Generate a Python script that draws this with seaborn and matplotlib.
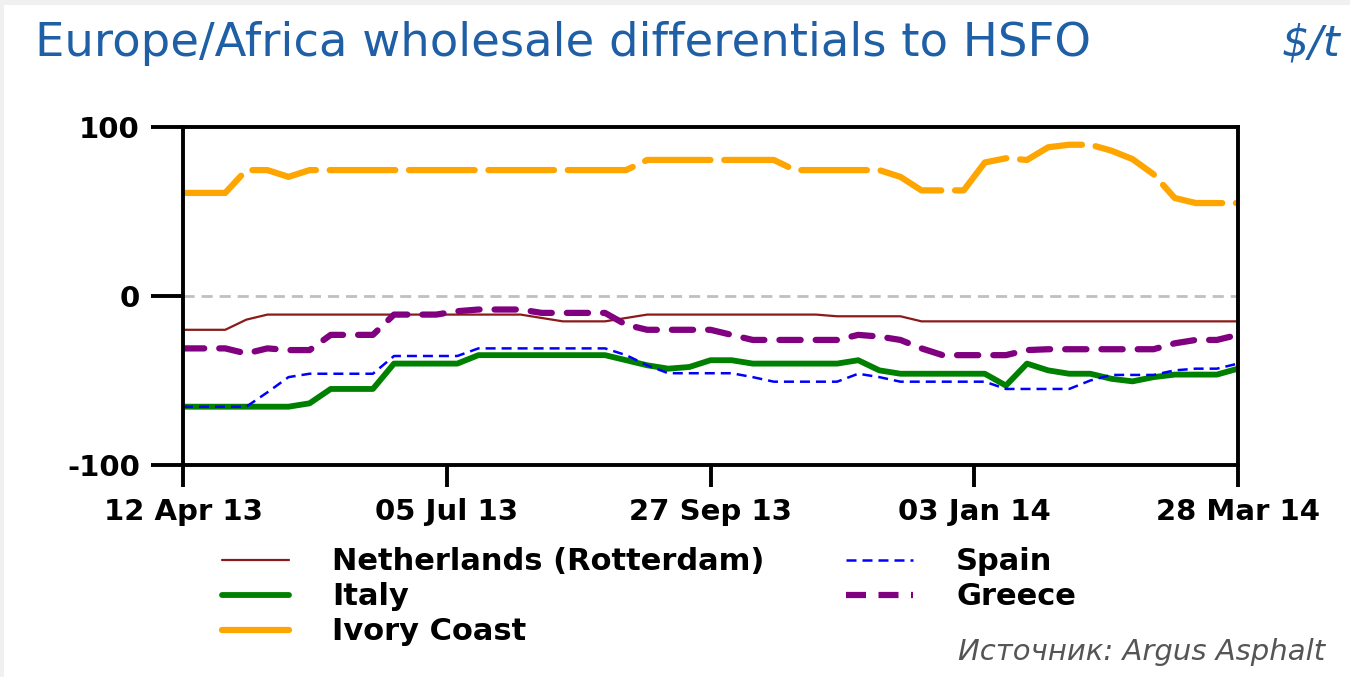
import matplotlib
matplotlib.use('Agg')
import matplotlib.pyplot as plt
import numpy as np
import pandas as pd
import seaborn as sns
from matplotlib.lines import Line2D
from matplotlib.patches import Rectangle

# weekly assessments, 12 Apr 13 .. 28 Mar 14 ($/t vs HSFO)
weeks = list(range(51))

netherlands = [-20, -20, -20, -14, -11, -11, -11, -11, -11, -11,
               -11, -11, -11, -11, -11, -11, -11, -13, -15, -15,
               -15, -13, -11, -11, -11, -11, -11, -11, -11, -11,
               -11, -12, -12, -12, -12, -15, -15, -15, -15, -15,
               -15, -15, -15, -15, -15, -15, -15, -15, -15, -15, -15]

italy = [-65.5, -65.5, -65.5, -65.5, -65.5, -65.5, -63.5, -55, -55, -55,
         -40, -40, -40, -40, -35, -35, -35, -35, -35, -35,
         -35, -38, -41, -43, -42, -38, -38, -40, -40, -40,
         -40, -40, -38, -44, -46, -46, -46, -46, -46, -53,
         -40, -44, -46, -46, -49, -50.5, -48, -46.5, -46.5, -46.5, -43]

ivory_coast = [61, 61, 61, 74.5, 74.5, 70.5, 74.5, 74.5, 74.5, 74.5,
               74.5, 74.5, 74.5, 74.5, 74.5, 74.5, 74.5, 74.5, 74.5, 74.5,
               74.5, 74.5, 80.5, 80.5, 80.5, 80.5, 80.5, 80.5, 80.5, 74.5,
               74.5, 74.5, 74.5, 74.5, 70.5, 62.5, 62.5, 62.5, 79, 81.5,
               80.5, 88, 89.5, 89.5, 86, 81, 72, 58, 55, 55, 55]

spain = [-65.5, -65.5, -65.5, -65.5, -57, -48, -46, -46, -46, -46,
         -35.5, -35.5, -35.5, -35.5, -31, -31, -31, -31, -31, -31,
         -31, -35, -41, -45.7, -45.7, -45.7, -45.7, -48, -50.7, -50.7,
         -50.7, -50.7, -46, -48, -50.7, -50.7, -50.7, -50.7, -50.7, -55,
         -55, -55, -55, -50, -46.7, -46.7, -46.7, -44, -43, -43, -40]

greece = [-31, -31, -31, -34, -31, -32, -32, -23, -23, -23,
          -11, -11, -11, -9, -8, -8, -8, -10, -10, -10,
          -10, -17, -20, -20, -20, -20, -23, -26, -26, -26,
          -26, -26, -23, -24, -26, -31, -35, -35, -35, -35,
          -32, -31.5, -31.5, -31.5, -31.5, -31.5, -31.5, -28, -26, -26, -23]

tick_pos = [0, 12.5, 25, 37.5, 50]
tick_labels = ['12 Apr 13', '05 Jul 13', '27 Sep 13', '03 Jan 14', '28 Mar 14']

sns.set_theme(style='white')
plt.rcParams['font.family'] = ['DejaVu Sans']
plt.rcParams['axes.unicode_minus'] = False

fig = plt.figure(figsize=(13.5, 6.77), dpi=100)
fig.patch.set_facecolor('#f0f0f0')
fig.patches.append(Rectangle((0.003, 0), 0.997, 0.992, transform=fig.transFigure,
                             facecolor='white', edgecolor='none', zorder=-1))

ax = fig.add_axes([183 / 1350, 1 - 465 / 677, 1055 / 1350, 338 / 677])
ax.set_facecolor('white')

ax.axhline(0, color='#c0c0c0', lw=2, dashes=(4, 2.5), zorder=1)

# name, values, colour, width, dash pattern on chart, dash pattern in legend
series = [
    ('Netherlands (Rotterdam)', netherlands, '#8b1a1a', 1.6, None, None),
    ('Italy', italy, '#008000', 4.2, None, None),
    ('Ivory Coast', ivory_coast, '#ffa500', 4.5, (10.5, 2.2), None),
    ('Spain', spain, '#0000ff', 1.8, (4, 2.4), (4, 2.4)),
    ('Greece', greece, '#800080', 4.5, (3.4, 2.4), (3.2, 2.0)),
]

handles = {}
for name, vals, color, lw, dash, leg_dash in series:
    df = pd.DataFrame({'week': weeks, 'value': vals})
    sns.lineplot(data=df, x='week', y='value', ax=ax, color=color, lw=lw, legend=False)
    line = ax.get_lines()[-1]
    if dash is not None:
        line.set_dashes(dash)
        if lw > 3:
            line.set_dash_capstyle('round')
    proxy = Line2D([], [], color=color, lw=lw)
    if leg_dash is not None:
        proxy.set_dashes(leg_dash)
    handles[name] = proxy

ax.set_xlim(0, 50)
ax.set_ylim(-100, 100)
ax.set_xticks(tick_pos)
ax.set_xticklabels(tick_labels)
ax.set_yticks([-100, 0, 100])
ax.set_xlabel('')
ax.set_ylabel('')
for sp in ax.spines.values():
    sp.set_color('black')
    sp.set_linewidth(2.8)
ax.tick_params(axis='x', direction='out', length=16, width=2.8, pad=8, bottom=True,
               labelsize=21, colors='black')
ax.tick_params(axis='y', direction='out', length=23, width=2.8, pad=8, left=True,
               labelsize=21, colors='black')
for lab in ax.get_xticklabels() + ax.get_yticklabels():
    lab.set_fontweight('bold')

leg_font = {'size': 22, 'weight': 'bold'}
names1 = ['Netherlands (Rotterdam)', 'Italy', 'Ivory Coast']
names2 = ['Spain', 'Greece']
for names, x0 in [(names1, 210), (names2, 834)]:
    leg = fig.legend([handles[n] for n in names], names, loc='upper left',
                     bbox_to_anchor=(x0 / 1350, 1 - 535 / 677), frameon=False, prop=leg_font,
                     handlelength=2.2, handletextpad=1.4, labelspacing=0.2, borderaxespad=0)
    for t in leg.get_texts():
        t.set_color('black')

fig.text(35 / 1350, 1 - 44 / 677, 'Europe/Africa wholesale differentials to HSFO',
         color='#1f5fa6', fontsize=33.5, va='center', ha='left')
fig.text(1340 / 1350, 1 - 44 / 677, r'\$/t', color='#1f5fa6', fontsize=31,
         style='italic', va='center', ha='right')
fig.text(1325 / 1350, 1 - 652 / 677, 'Источник: Argus Asphalt', color='#555555',
         fontsize=21, style='italic', va='center', ha='right')

fig.savefig('out.png', dpi=100)
